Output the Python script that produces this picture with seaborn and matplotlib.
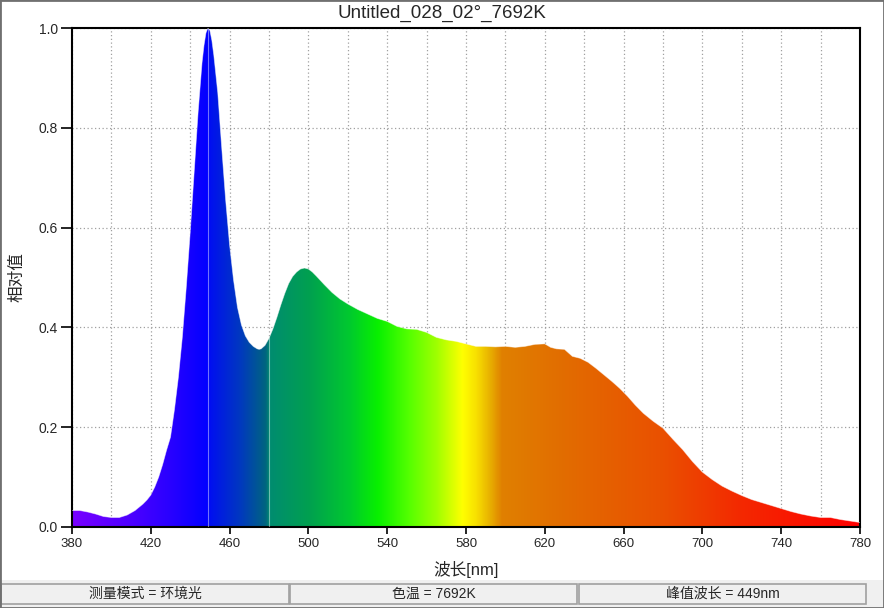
import numpy as np
import pandas as pd
import matplotlib
matplotlib.use("Agg")
import matplotlib.pyplot as plt
import seaborn as sns
from matplotlib.colors import LinearSegmentedColormap
from matplotlib.patches import Rectangle

# Datos del espectro
longitud_onda = [380, 384, 388, 392, 396, 400, 404, 408, 412, 416, 418, 420, 422, 424, 426,
                 428, 430, 432, 434, 436, 438, 440, 442, 444, 446, 447, 448, 449, 450, 451,
                 452, 454, 456, 458, 460, 462, 464, 466, 468, 470, 472, 474, 475, 476, 478,
                 480, 482, 484, 486, 488, 490, 492, 494, 496, 498, 500, 502, 504, 508, 512,
                 516, 520, 525, 530, 535, 540, 545, 550, 555, 560, 565, 570, 575, 580, 585,
                 590, 595, 600, 605, 610, 615, 620, 623, 626, 630, 634, 638, 642, 646, 650,
                 654, 658, 662, 666, 670, 675, 680, 685, 690, 695, 700, 705, 710, 715, 720,
                 725, 730, 735, 740, 745, 750, 755, 760, 765, 770, 775, 780]
valor_relativo = [0.033, 0.033, 0.030, 0.026, 0.021, 0.019, 0.019, 0.024, 0.033, 0.046, 0.054,
                  0.064, 0.080, 0.100, 0.125, 0.154, 0.180, 0.235, 0.300, 0.380, 0.480, 0.590,
                  0.710, 0.830, 0.930, 0.965, 0.990, 1.000, 0.995, 0.975, 0.945, 0.870, 0.760,
                  0.655, 0.565, 0.495, 0.440, 0.405, 0.383, 0.370, 0.362, 0.357, 0.356, 0.357,
                  0.364, 0.378, 0.397, 0.420, 0.445, 0.468, 0.488, 0.502, 0.511, 0.517, 0.519,
                  0.517, 0.511, 0.503, 0.486, 0.470, 0.457, 0.447, 0.436, 0.427, 0.418, 0.412,
                  0.402, 0.397, 0.396, 0.390, 0.380, 0.375, 0.372, 0.367, 0.362, 0.362, 0.361,
                  0.362, 0.360, 0.362, 0.366, 0.367, 0.360, 0.357, 0.356, 0.342, 0.338, 0.330,
                  0.318, 0.305, 0.292, 0.278, 0.262, 0.244, 0.228, 0.212, 0.198, 0.176, 0.155,
                  0.131, 0.110, 0.095, 0.082, 0.072, 0.063, 0.055, 0.049, 0.043, 0.037, 0.031,
                  0.026, 0.022, 0.019, 0.019, 0.015, 0.012, 0.009]

# Colores del degradado espectral
nodos_nm = [380, 410, 430, 449, 450, 465, 478, 480, 500, 520, 535, 550, 565, 578,
            585, 592, 598, 630, 680, 720, 780]
nodos_color = ["#7800ff", "#4c00ff", "#2800ff", "#0000ff", "#0010f0", "#0038c0", "#006480",
               "#008c70", "#00a050", "#00c830", "#08f000", "#50ff00", "#a0ff00",
               "#ffff00", "#f8e000", "#e8b000", "#e08000", "#e26c00", "#ea5000", "#f42800",
               "#ff0000"]

titulo = "Untitled_028_02°_7692K"
estado = ["测量模式 = 环境光", "色温 = 7692K", "峰值波长 = 449nm"]

sns.set_style("white")
plt.rcParams['font.family'] = ['Liberation Sans', 'Noto Sans CJK SC', 'DejaVu Sans']

df = pd.DataFrame({"nm": longitud_onda, "valor": valor_relativo})

W, H = 884, 608
fig = plt.figure(figsize=(8.84, 6.08), dpi=100)
ax = fig.add_axes([72 / W, 1 - 527 / H, 788 / W, 499 / H])

# Mapa de color espectral
posiciones = [(n - 380) / 400 for n in nodos_nm]
cmap = LinearSegmentedColormap.from_list("espectro", list(zip(posiciones, nodos_color)), N=1024)

relleno = ax.fill_between(df["nm"], df["valor"], 0, color="none", lw=0)
gradiente = np.linspace(0, 1, 1600).reshape(1, -1)
img = ax.imshow(gradiente, cmap=cmap, extent=[380, 780, 0, 1], aspect="auto",
                origin="lower", zorder=2, interpolation="bilinear")
trayecto = relleno.get_paths()[0]
img.set_clip_path(trayecto, transform=ax.transData)

# Líneas claras dentro del relleno
for x in (449, 480):
    ln = ax.axvline(x, color="white", lw=0.8, alpha=0.45, zorder=3)
    ln.set_clip_path(trayecto, transform=ax.transData)

sns.lineplot(data=df, x="nm", y="valor", ax=ax, color="white", lw=0.6, alpha=0.5, zorder=4)

ax.set_xlim(380, 780)
ax.set_ylim(0, 1)
ax.set_xticks(np.arange(380, 781, 40))
ax.set_xticks(np.arange(380, 781, 20), minor=True)
ax.set_yticks(np.arange(0, 1.01, 0.2))
ax.set_yticklabels([f"{v:.1f}" for v in np.arange(0, 1.01, 0.2)])
ax.grid(True, which="both", axis="x", color="#a0a0a0", ls=(0, (1, 2)), lw=0.9, zorder=1)
ax.grid(True, which="major", axis="y", color="#a0a0a0", ls=(0, (1, 2)), lw=0.9, zorder=1)
ax.set_axisbelow(True)

ax.tick_params(axis="x", which="major", direction="out", length=5, width=1.2,
               color="black", labelsize=9.5, pad=3, bottom=True)
ax.tick_params(axis="x", which="minor", length=0)
ax.tick_params(axis="y", direction="out", length=8, width=1.2, color="black",
               labelsize=10, pad=2, left=True)
for s in ax.spines.values():
    s.set_color("black")
    s.set_linewidth(1.5)

fig.text(0.5, 1 - 13 / H, titulo, ha="center", va="center", fontsize=13.5)
ax.set_xlabel("波长[nm]", fontsize=12, labelpad=8)
ax.set_ylabel("相对值", fontsize=12, labelpad=10)

# Barra de estado inferior
fig.patches.append(Rectangle((0, 0), 1, 28 / H, transform=fig.transFigure,
                             facecolor="#f0f0f0", edgecolor="none", zorder=0))
cajas = [(1, 289), (290, 577), (579, 866)]
for (x0, x1), texto in zip(cajas, estado):
    fig.patches.append(Rectangle((x0 / W, 4 / H), (x1 - x0) / W, 20 / H,
                                 transform=fig.transFigure, facecolor="#f0f0f0",
                                 edgecolor="#a0a0a0", lw=1.2, zorder=1))
    fig.text((x0 + x1) / 2 / W, 14 / H, texto, ha="center", va="center", fontsize=10)

# Borde de la ventana
fig.patches.append(Rectangle((0, 0), 1, 1, transform=fig.transFigure, facecolor="none",
                             edgecolor="#707070", lw=2, zorder=5))

plt.savefig("out.png", dpi=100)
